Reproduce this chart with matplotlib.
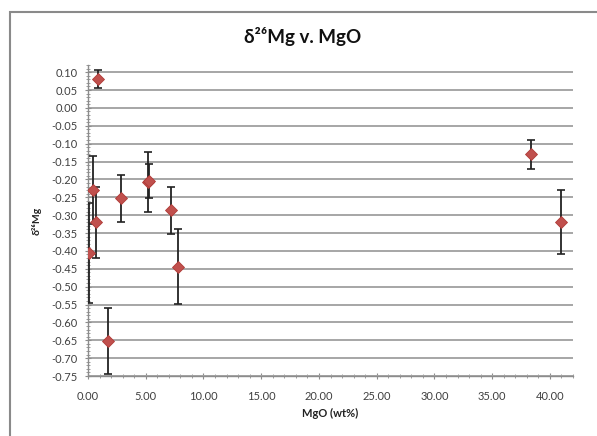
import matplotlib
matplotlib.use("Agg")
import matplotlib.pyplot as plt
from matplotlib.ticker import MultipleLocator, FormatStrFormatter
from matplotlib.patches import Rectangle

plt.rcParams['font.family'] = ['Lato', 'DejaVu Sans']

mgo = [0.84, 0.40, 0.66, 0.10, 2.83, 5.17, 5.30, 7.20, 7.78, 1.71, 38.33, 41.00]
d26mg = [0.08, -0.23, -0.32, -0.405, -0.253, -0.207, -0.205, -0.286, -0.444, -0.652, -0.13, -0.32]
err = [0.025, 0.095, 0.10, 0.14, 0.065, 0.085, 0.047, 0.066, 0.105, 0.093, 0.04, 0.09]

title = "δ²⁶Mg v. MgO"
xlabel = "MgO (wt%)"
ylabel = "δ²⁶Mg"

fig = plt.figure(figsize=(5.97, 4.36), dpi=100)
fig.patches.append(Rectangle((9.5 / 597, -0.1), 1.2, 1 - 12.5 / 436 + 0.1,
                             transform=fig.transFigure, fill=False,
                             edgecolor='#8a8a8a', linewidth=1.5, zorder=0))

ax = fig.add_axes([88 / 597, 1 - 376 / 436, (573 - 88) / 597, (376 - 65) / 436])
ax.set_xlim(0, 42)
ax.set_ylim(-0.75, 0.12)

ax.errorbar(mgo, d26mg, yerr=err, fmt='none', ecolor='#222222', elinewidth=1.3,
            capsize=3, capthick=1.2, zorder=3)
ax.plot(mgo, d26mg, linestyle='none', marker='D', markersize=6.3,
        color='#c0504d', markeredgecolor='#b03a37', markeredgewidth=0.6, zorder=4)

ax.xaxis.set_major_locator(MultipleLocator(5))
ax.xaxis.set_minor_locator(MultipleLocator(1))
ax.yaxis.set_major_locator(MultipleLocator(0.05))
ax.yaxis.set_minor_locator(MultipleLocator(0.01))
ax.xaxis.set_major_formatter(FormatStrFormatter('%.2f'))
ax.yaxis.set_major_formatter(FormatStrFormatter('%.2f'))

ax.grid(axis='y', which='major', color='#a6a6a6', linewidth=1.4)
ax.set_axisbelow(True)
for s in ['top', 'right']:
    ax.spines[s].set_visible(False)
for s in ['left', 'bottom']:
    ax.spines[s].set_color('#8c8c8c')
    ax.spines[s].set_linewidth(1.0)

ax.tick_params(axis='both', which='major', direction='inout', length=5,
               color='#8c8c8c', labelsize=8, labelcolor='#404040')
ax.tick_params(axis='both', which='minor', direction='inout', length=3,
               color='#8c8c8c')
ax.tick_params(axis='x', which='major', pad=8)
ax.tick_params(axis='y', which='major', pad=5)

fig.text(303 / 597, 1 - 36 / 436, title, ha='center', va='center',
         fontsize=13.5, fontweight='bold', color='#111111')
fig.text(330 / 597, 1 - 413 / 436, xlabel, ha='center', va='center',
         fontsize=8, fontweight='bold', color='#222222')
fig.text(37 / 597, 1 - 221 / 436, ylabel, ha='center', va='center',
         rotation=90, fontsize=7.5, fontweight='bold', color='#222222')

fig.savefig('out.png', dpi=100)
